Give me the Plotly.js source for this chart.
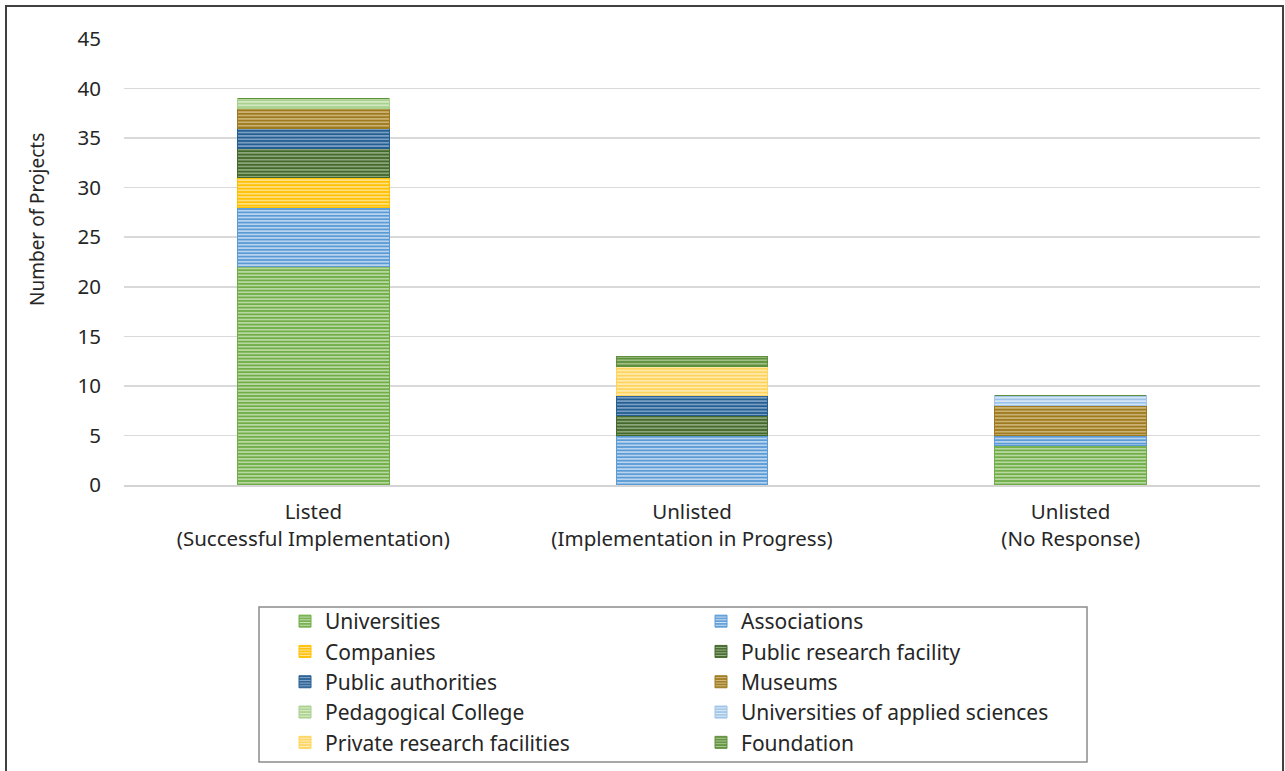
<!DOCTYPE html>
<html>
<head>
<meta charset="utf-8">
<script src="https://cdn.plot.ly/plotly-3.0.1.min.js"></script>
<style>
html,body{margin:0;padding:0;background:#fff;}
#chart{width:1285px;height:771px;}
</style>
</head>
<body>
<div id="chart"></div>
<script>
const categories = ["Listed<br>(Successful Implementation)", "Unlisted<br>(Implementation in Progress)", "Unlisted<br>(No Response)"];
const seriesNames = ["Universities", "Associations", "Companies", "Public research facility", "Public authorities", "Museums", "Pedagogical College", "Universities of applied sciences", "Private research facilities", "Foundation"];
const universities = [22, 0, 4];
const associations = [6, 5, 1];
const companies = [3, 0, 0];
const publicResearchFacility = [3, 2, 0];
const publicAuthorities = [2, 2, 0];
const museums = [2, 0, 3];
const pedagogicalCollege = [1, 0, 0];
const universitiesAppliedSciences = [0, 0, 1];
const privateResearchFacilities = [0, 3, 0];
const foundation = [0, 1, 0];
const yTickValues = [0, 5, 10, 15, 20, 25, 30, 35, 40, 45];
const yTitle = "Number of Projects";

const seriesValues = [universities, associations, companies, publicResearchFacility, publicAuthorities, museums, pedagogicalCollege, universitiesAppliedSciences, privateResearchFacilities, foundation];
const baseColors = ["#70AD47", "#5B9BD5", "#FFC000", "#43682B", "#255E91", "#9E7A1E", "#A9D18E", "#9DC3E6", "#FFD45C", "#5E8F3A"];
const lineColors = ["#C9E3B8", "#CFE2F5", "#FFE7A0", "#9DB38C", "#8FAFD0", "#D6C08A", "#DDEED0", "#E2EEF9", "#FFF0BF", "#AFCB9A"];

const traces = seriesNames.map((name, i) => ({
  type: "bar",
  name: name,
  x: categories,
  y: seriesValues[i],
  legend: (i % 2 === 0) ? "legend" : "legend2",
  marker: {
    color: baseColors[i],
    line: {color: baseColors[i], width: 1},
    pattern: {shape: "-", bgcolor: baseColors[i], fgcolor: lineColors[i], fgopacity: 1, size: 3.4, solidity: 0.4}
  },
  hoverinfo: "name+y"
}));

const L = 124, R = 1260, T = 39, B = 485, W = 1285, H = 771;
const pw = R - L, ph = B - T;
const px = v => (v - L) / pw;
const py = v => (B - v) / ph;
const FONT = "'Noto Sans', Lato, sans-serif";

const legendCommon = {
  orientation: "v",
  traceorder: "normal",
  xanchor: "left",
  y: py(601), yanchor: "top",
  font: {family: FONT, size: 21, color: "#262626"},
  bgcolor: "rgba(0,0,0,0)", borderwidth: 0
};

const layout = {
  width: W, height: H,
  margin: {l: L, r: W - R, t: T, b: H - B, pad: 0, autoexpand: false},
  paper_bgcolor: "#fff",
  plot_bgcolor: "#fff",
  barmode: "stack",
  bargap: 0.6,
  font: {family: FONT, color: "#262626", size: 20},
  xaxis: {
    type: "category",
    tickfont: {family: FONT, size: 20.5, color: "#262626"},
    showgrid: false,
    showline: true, linecolor: "#D4D4D4", linewidth: 1.5,
    ticks: "", ticklabelstandoff: 8,
    automargin: false,
    fixedrange: true
  },
  yaxis: {
    range: [0, 45],
    tickvals: yTickValues,
    tickfont: {family: FONT, size: 20.5, color: "#262626"},
    showgrid: true, gridcolor: "#D9D9D9", gridwidth: 1.5,
    zeroline: false, showline: false,
    ticks: "", ticklabelstandoff: 22,
    automargin: false,
    fixedrange: true
  },
  annotations: [
    {text: yTitle, xref: "paper", yref: "paper", x: px(37), y: py(220), xanchor: "center", yanchor: "middle",
     textangle: -90, showarrow: false, font: {family: FONT, size: 19, color: "#262626"}}
  ],
  showlegend: true,
  legend: Object.assign({}, legendCommon, {x: px(285)}),
  legend2: Object.assign({}, legendCommon, {x: px(701)}),
  shapes: [
    {type: "rect", xref: "paper", yref: "paper", x0: px(259), x1: px(1087), y0: py(607), y1: py(762), line: {color: "#8C8C8C", width: 1.5}, fillcolor: "rgba(0,0,0,0)", layer: "below"},
    {type: "rect", xref: "paper", yref: "paper", x0: px(6), x1: px(1283), y0: py(6), y1: py(775), line: {color: "#404040", width: 2}, fillcolor: "rgba(0,0,0,0)", layer: "below"}
  ]
};

Plotly.newPlot("chart", traces, layout, {displayModeBar: false, staticPlot: true});
</script>
</body>
</html>
